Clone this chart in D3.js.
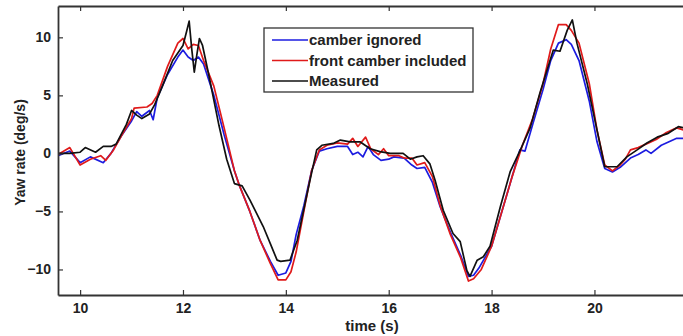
<!DOCTYPE html>
<html><head><meta charset="utf-8">
<script src="https://cdn.jsdelivr.net/npm/d3@7"></script>
<style>body{margin:0;background:#fff}svg{display:block}text{font-family:"Liberation Sans",Arial,sans-serif;font-weight:bold}</style>
</head><body><svg id="c" width="683" height="336"></svg>
<script>
const xTicks = [10, 12, 14, 16, 18, 20];
const yTicks = [-10, -5, 0, 5, 10];
const seriesNames = ["camber ignored", "front camber included", "Measured"];
const seriesColors = ["#1c1ce0", "#e01a1a", "#111111"];

const tBlue = [9.57,9.8,10.0,10.2,10.45,10.6,10.8,11.0,11.1,11.2,11.35,11.42,11.5,11.7,11.9,12.0,12.1,12.2,12.3,12.4,12.6,12.8,13.0,13.1,13.3,13.5,13.7,13.85,14.0,14.1,14.2,14.35,14.5,14.65,14.8,15.0,15.2,15.3,15.4,15.5,15.6,15.7,15.85,16.0,16.1,16.3,16.45,16.55,16.7,16.85,17.0,17.1,17.2,17.4,17.55,17.65,17.75,18.0,18.2,18.4,18.55,18.65,18.8,19.0,19.15,19.3,19.45,19.55,19.7,19.9,20.05,20.2,20.35,20.5,20.7,20.85,21.0,21.1,21.3,21.45,21.6,21.75];
const vBlue = [-0.2,0.2,-0.8,-0.3,-0.8,0.0,1.5,2.8,3.6,3.2,3.7,2.9,4.8,6.8,8.3,8.9,8.3,8.0,8.3,7.7,5.0,1.6,-1.5,-2.8,-5.0,-7.5,-9.3,-10.5,-10.3,-9.3,-7.0,-4.5,-1.5,0.2,0.4,0.6,0.6,-0.1,0.1,-0.3,0.6,-0.1,-0.6,-0.5,-0.3,-0.4,-1.0,-1.3,-1.2,-2.5,-4.6,-5.7,-6.8,-8.8,-10.6,-10.5,-9.9,-8.0,-5.0,-2.0,0.3,0.2,2.5,5.5,8.0,9.5,9.8,9.4,8.0,4.5,1.0,-1.3,-1.6,-1.2,-0.4,-0.1,0.3,0.0,0.7,1.0,1.3,1.3];

const tRed = [9.57,9.8,10.0,10.2,10.4,10.5,10.65,10.8,11.0,11.05,11.3,11.4,11.5,11.7,11.9,12.0,12.1,12.2,12.3,12.4,12.6,12.8,13.0,13.1,13.3,13.5,13.7,13.85,14.0,14.1,14.2,14.35,14.5,14.65,14.8,15.0,15.2,15.3,15.4,15.55,15.65,15.8,15.9,16.0,16.2,16.3,16.45,16.55,16.7,16.85,17.0,17.2,17.4,17.55,17.65,17.8,18.0,18.2,18.4,18.6,18.8,19.0,19.15,19.3,19.45,19.55,19.7,19.9,20.05,20.2,20.35,20.5,20.6,20.7,20.85,21.0,21.2,21.4,21.6,21.75];
const vRed = [-0.1,0.5,-1.0,-0.5,-0.2,-0.6,0.3,1.5,3.0,3.9,4.0,4.3,5.0,7.5,9.5,9.9,9.0,9.4,9.3,8.0,5.8,2.2,-1.5,-2.8,-5.0,-7.5,-9.5,-10.9,-10.9,-10.2,-8.5,-5.0,-1.5,0.3,0.7,0.9,0.8,1.3,0.6,1.4,0.4,-0.1,0.4,-0.2,-0.2,-0.4,-0.4,-1.0,-0.8,-2.0,-4.5,-7.0,-9.0,-11.0,-10.8,-10.0,-8.0,-5.0,-2.0,0.7,3.0,6.0,9.0,11.1,11.1,10.6,9.5,6.0,2.0,-1.0,-1.5,-1.0,-0.5,0.3,0.5,0.8,1.2,1.8,2.2,2.0];

const tBlack = [9.57,9.8,10.0,10.1,10.3,10.45,10.6,10.7,10.9,11.0,11.1,11.2,11.35,11.45,11.6,11.8,12.0,12.07,12.12,12.17,12.22,12.27,12.32,12.38,12.5,12.7,12.85,13.0,13.15,13.3,13.56,13.7,13.83,13.9,14.08,14.22,14.47,14.6,14.7,14.92,15.06,15.25,15.44,15.64,15.83,16.03,16.28,16.42,16.55,16.67,16.8,16.9,17.06,17.25,17.39,17.52,17.58,17.72,17.84,17.97,18.17,18.36,18.56,18.75,18.94,19.2,19.33,19.47,19.57,19.66,19.86,20.05,20.2,20.44,20.63,20.83,21.02,21.22,21.42,21.63,21.75];
const vBlack = [0.0,0.0,0.1,0.5,0.1,0.6,0.6,0.8,2.5,3.7,3.3,3.0,3.4,4.2,5.8,8.0,9.3,10.5,11.4,9.0,7.0,8.5,9.9,9.3,6.8,2.4,-0.5,-2.6,-2.8,-4.0,-6.3,-7.8,-9.2,-9.3,-9.2,-7.5,-2.3,0.3,0.7,0.86,1.15,1.0,1.0,0.4,0.15,0.0,0.0,-0.5,-0.3,-0.2,-0.9,-2.3,-4.9,-6.9,-7.6,-10.1,-10.6,-9.2,-8.9,-8.0,-4.6,-1.6,0.3,2.2,5.2,8.9,8.8,10.6,11.5,9.5,6.0,2.0,-1.15,-1.15,-0.3,0.3,0.9,1.4,1.7,2.3,2.2];

const m = {left: 58, top: 6, right: 686, bottom: 295};
const svg = d3.select("#c");
const x = d3.scaleLinear().domain([9.57, 21.78]).range([m.left, m.right]);
const y = d3.scaleLinear().domain([-12.2, 12.7]).range([m.bottom, m.top]);

svg.append("defs").append("clipPath").attr("id","clip")
  .append("rect").attr("x", m.left).attr("y", m.top).attr("width", m.right - m.left).attr("height", m.bottom - m.top);

const series = [
  {t: tBlue, v: vBlue},
  {t: tRed, v: vRed},
  {t: tBlack, v: vBlack}
];
const line = d3.line().x(d => x(d[0])).y(d => y(d[1]));
const g = svg.append("g").attr("clip-path", "url(#clip)");
series.forEach((s, i) => {
  g.append("path").datum(s.t.map((t, k) => [t, s.v[k]]))
    .attr("fill", "none").attr("stroke", seriesColors[i]).attr("stroke-width", 1.7)
    .attr("stroke-linejoin", "round").attr("d", line);
});

// axes
const axColor = "#333";
const axB = svg.append("g").attr("transform", `translate(0,${m.bottom})`)
  .call(d3.axisBottom(x).tickValues(xTicks).tickSize(-5).tickSizeOuter(0).tickPadding(8).tickFormat(d3.format("d")));
const axT = svg.append("g").attr("transform", `translate(0,${m.top})`)
  .call(d3.axisTop(x).tickValues(xTicks).tickSize(-5).tickSizeOuter(0).tickFormat(""));
const axL = svg.append("g").attr("transform", `translate(${m.left},0)`)
  .call(d3.axisLeft(y).tickValues(yTicks).tickSize(-5).tickSizeOuter(0).tickPadding(7).tickFormat(d3.format("d")));
[axB, axT, axL].forEach(a => {
  a.select(".domain").attr("stroke", axColor).attr("stroke-width", 1.8);
  a.selectAll(".tick line").attr("stroke", axColor).attr("stroke-width", 1.2);
  a.selectAll("text").attr("fill", "#222").style("font-size", "14px").style("font-family", '"Liberation Sans",Arial,sans-serif').style("font-weight", "bold");
});

// axis labels
svg.append("text").attr("x", 372).attr("y", 331).attr("text-anchor", "middle")
  .style("font-size", "15px").attr("fill", "#222").text("time (s)");
svg.append("text").attr("transform", `translate(25,${(m.top + m.bottom) / 2 + 2}) rotate(-90)`)
  .attr("text-anchor", "middle").style("font-size", "14px").attr("fill", "#222").text("Yaw rate (deg/s)");

// legend
const lg = svg.append("g");
lg.append("rect").attr("x", 264).attr("y", 28).attr("width", 209).attr("height", 64)
  .attr("fill", "#fff").attr("stroke", "#333").attr("stroke-width", 1.3);
seriesNames.forEach((n, i) => {
  const yy = 40 + i * 20.5;
  lg.append("line").attr("x1", 272).attr("x2", 308).attr("y1", yy).attr("y2", yy)
    .attr("stroke", seriesColors[i]).attr("stroke-width", 1.6);
  lg.append("text").attr("x", 309).attr("y", yy + 5).style("font-size", "15px").attr("fill", "#222").text(n);
});
</script></body></html>
